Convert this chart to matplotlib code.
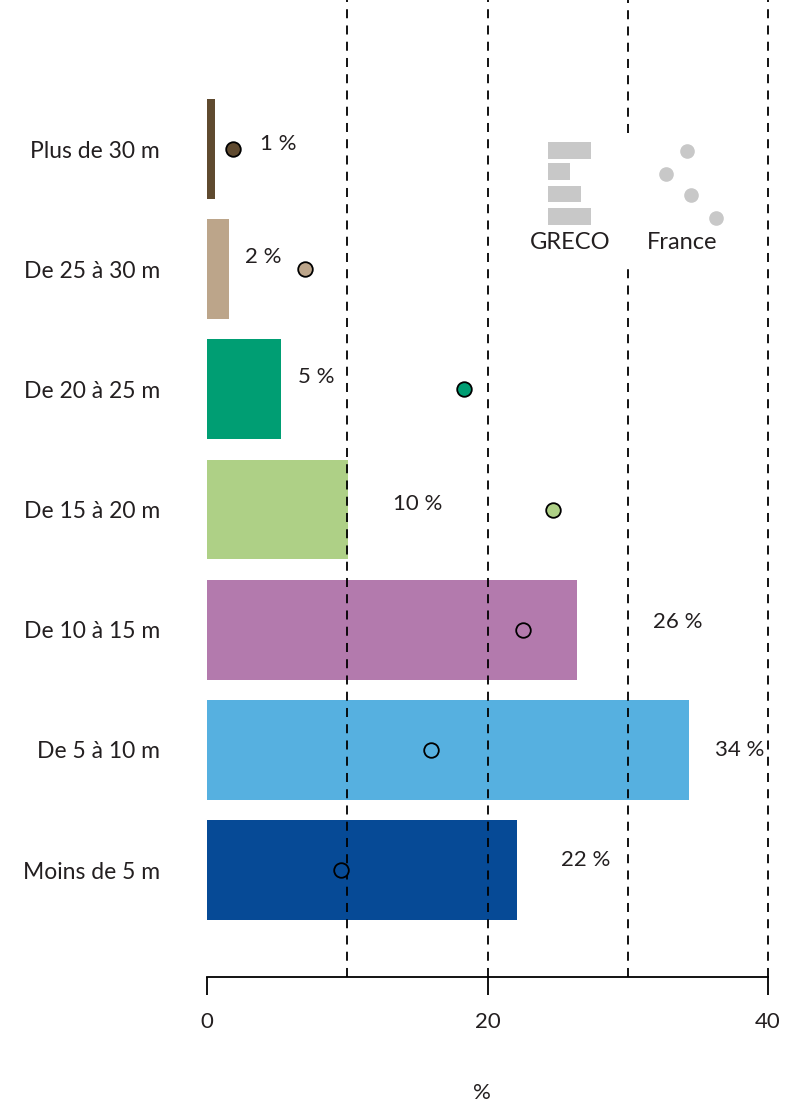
import matplotlib.pyplot as plt

plt.rcParams['font.family'] = ['Lato', 'DejaVu Sans']

# classes de hauteur, du bas vers le haut
classes = ['Moins de 5 m', 'De 5 à 10 m', 'De 10 à 15 m', 'De 15 à 20 m',
           'De 20 à 25 m', 'De 25 à 30 m', 'Plus de 30 m']
greco = [22.1, 34.4, 26.4, 10.05, 5.3, 1.6, 0.6]
france = [9.55, 16.0, 22.5, 24.7, 18.3, 7.0, 1.85]
couleurs = ['#064a96', '#56b0e0', '#b37aad', '#aed086', '#009e73', '#bca58a', '#5f4a2f']

# emplacement des étiquettes de valeur (x, y en unités de données)
etiq_x = [27.0, 38.0, 33.6, 15.0, 7.8, 4.0, 5.1]
etiq_y = [0.08, 1.0, 2.06, 3.05, 4.1, 5.1, 6.04]

# petite légende dessinée à la main
leg_barres = [3.1, 1.6, 2.4, 3.1]
leg_barres_y = [5.99, 5.81, 5.625, 5.44]
leg_pts_x = [34.2, 32.7, 34.5, 36.3]
leg_pts_y = [5.98, 5.79, 5.62, 5.43]

fig = plt.figure(figsize=(7.94, 11.05), dpi=100)
ax = fig.add_axes([207 / 794, 128 / 1105, 561 / 794, 977 / 1105])

y = list(range(len(classes)))
ax.barh(y, greco, height=0.83, color=couleurs, zorder=1)

# lignes de repère en pointillés (celle de 30 coupée par la légende)
dash = dict(color='black', linewidth=1.3, linestyle=(0, (5, 4)), zorder=2, clip_on=False)
ax.vlines([10, 20, 40], -0.89, 7.24, **dash)
ax.vlines(30, -0.89, 5.06, **dash)
ax.vlines(30, 6.13, 7.24, **dash)

for yi, v, c in zip(y, france, couleurs):
    ax.plot(v, yi, 'o', markersize=10.5, markerfacecolor=c,
            markeredgecolor='black', markeredgewidth=1.3, zorder=3)

for v, ex, ey in zip(greco, etiq_x, etiq_y):
    ax.text(ex, ey, f'{round(v)} %', ha='center', va='center',
            fontsize=16, color='#231f20')

# légende
for w, ly in zip(leg_barres, leg_barres_y):
    ax.barh(ly, w, left=24.3, height=0.14, color='#c8c8c8', zorder=1)
ax.plot(leg_pts_x, leg_pts_y, 'o', linestyle='', markersize=9.5,
        color='#c8c8c8', zorder=3)
ax.text(25.9, 5.225, 'GRECO', ha='center', va='center', fontsize=17, color='#231f20')
ax.text(33.85, 5.225, 'France', ha='center', va='center', fontsize=17, color='#231f20')

ax.set_xlim(0, 40)
ax.set_ylim(-0.89, 7.24)
ax.set_yticks(y)
ax.set_yticklabels(classes, fontsize=16.5, color='#231f20')
ax.tick_params(axis='y', length=0, pad=34)
ax.set_xticks([0, 10, 20, 30, 40])
ax.set_xticklabels(['0', '', '20', '', '40'], fontsize=16, color='#231f20')
ax.tick_params(axis='x', length=13, width=1.3, direction='out', pad=12)
for t, lab in zip(ax.xaxis.get_major_ticks(), ['0', '', '20', '', '40']):
    if lab == '':
        t.tick1line.set_visible(False)
fig.text(482 / 794, 1 - 1093 / 1105, '%', ha='center', va='center',
         fontsize=16, color='#231f20')

for s in ['top', 'right', 'left']:
    ax.spines[s].set_visible(False)
ax.spines['bottom'].set_linewidth(1.3)

fig.savefig('out.png', dpi=100)
